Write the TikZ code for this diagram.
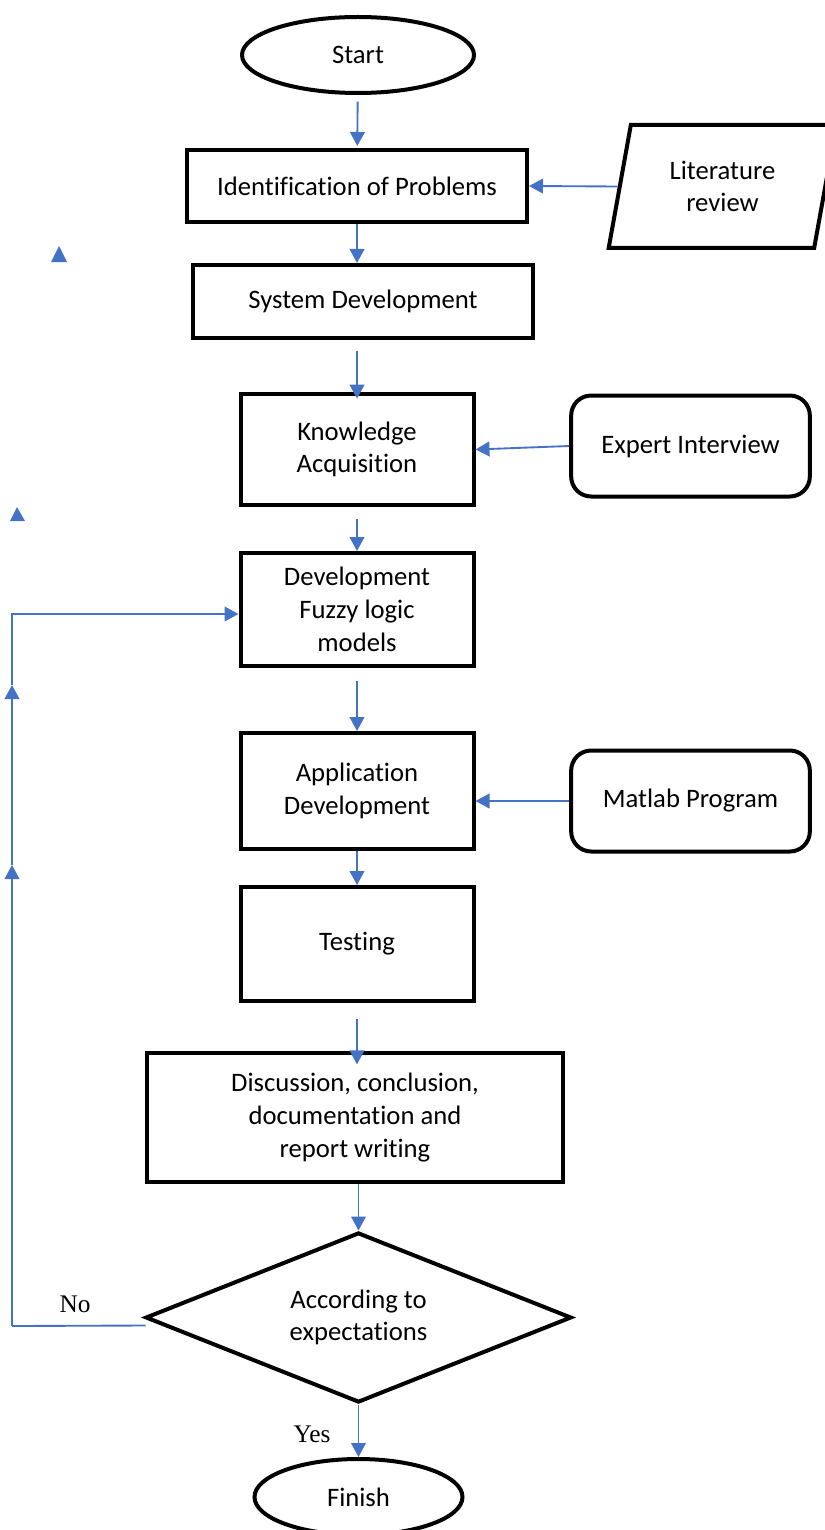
\documentclass[tikz,border=0pt]{standalone}
\usepackage{fontspec}
\setmainfont[Ligatures=NoCommon]{Carlito}
\newfontfamily\serifnote{Liberation Serif}
\usepackage{tikz}
\usetikzlibrary{arrows.meta,shapes.geometric,calc}
\definecolor{flowblue}{RGB}{68,114,196}

\begin{document}
\begin{tikzpicture}[x=0.75pt,y=-0.75pt,font=\fontsize{20}{24.5}\selectfont,
  procbox/.style={draw,line width=3pt,align=center,inner sep=0pt},
  termbox/.style={draw,line width=3pt,ellipse,inner sep=0pt,minimum width=#1,minimum height=57pt},
  sidebox/.style={draw,line width=3pt,rounded corners=15pt,align=center,inner sep=0pt,minimum width=179pt,minimum height=75.75pt},
  flow/.style={flowblue,line width=1.4pt,-{Triangle[length=10.5pt,width=11pt]}},
  flowline/.style={flowblue,line width=1.4pt}]
\useasboundingbox (0,0) rectangle (824,1530);
\node[termbox=174pt] (start) at (358,55) {Start};
\node[procbox,minimum width=255pt,minimum height=54pt] (identify) at (357,186) {Identification of Problems};
\node[draw,line width=3pt,trapezium,trapezium left angle=76,trapezium right angle=104,trapezium stretches=true,minimum width=171.75pt,minimum height=92.25pt,align=center,inner sep=0pt] (litreview) at (722.5,186.5) {Literature\\review};
\node[procbox,minimum width=255pt,minimum height=54.75pt] (sysdev) at (363,301.5) {System Development};
\node[procbox,minimum width=174.75pt,minimum height=83.25pt] (knowacq) at (357,449.5) {Knowledge\\Acquisition};
\node[sidebox] (expert) at (690.5,446) {Expert Interview};
\node[procbox,minimum width=174.75pt,minimum height=84.75pt] (fuzzy) at (357,609.5) {Development\\Fuzzy logic\\models};
\node[procbox,minimum width=174.75pt,minimum height=87pt] (appdev) at (357,791) {Application\\Development};
\node[sidebox] (matlab) at (690.5,801) {Matlab Program};
\node[procbox,minimum width=174.75pt,minimum height=85.5pt] (testing) at (357,944) {Testing};
\node[procbox,minimum width=312pt,minimum height=96.75pt] (discuss) at (355,1117.5) {Discussion, conclusion,\\documentation and\\report writing};
\node[draw,line width=3pt,diamond,aspect=2.5,inner sep=0pt,minimum width=319.5pt,minimum height=127.5pt,align=center] (decide) at (358.5,1317.5) {According to\\expectations};
\node[termbox=156pt] (finish) at (358.5,1497) {Finish};
\node[font=\serifnote\fontsize{19}{22}\selectfont] (nolabel) at (75,1304) {No};
\node[font=\serifnote\fontsize{19}{22}\selectfont] (yeslabel) at (312,1434) {Yes};
\draw[flow,shorten <=5pt,shorten >=1.5pt] (start) -- (identify);
\draw[flow] (litreview.west) -- (identify.east);
\draw[flow] (identify.south) -- (identify.south |- sysdev.north);
\draw[flow,shorten <=8pt,shorten >=-5pt] (sysdev.south -| knowacq.north) -- (knowacq.north);
\draw[flow] (expert.west) -- (knowacq.east);
\draw[flow,shorten <=9pt] (knowacq) -- (fuzzy);
\draw[flow,shorten <=10pt] (fuzzy) -- (appdev);
\draw[flow] (matlab.west) -- (matlab.west -| appdev.east);
\draw[flow] (appdev) -- (testing);
\draw[flow,shorten <=12pt,shorten >=-10pt] (testing.south) -- (testing.south |- discuss.north);
\draw[flow] (discuss.south -| decide.north) -- (decide.north);
\draw[flow] (decide) -- (finish);
\coordinate (nolow) at (12,1326);
\coordinate (nomida) at (12,865);
\coordinate (nomidb) at (12,685);
\coordinate (nohigh) at (12,614);
\draw[flowline] ($(decide.west)+(2,8)$) -- (nolow);
\draw[flow] (nolow) -- (nomida);
\draw[flow] (nomida) -- (nomidb);
\draw[flow] (nomidb) -- (nohigh) -- (nohigh -| fuzzy.west);
\fill[flowblue] (59,246) -- (67,262) -- (51,262) -- cycle;
\fill[flowblue] (17,507) -- (25,521) -- (10,521) -- cycle;
\end{tikzpicture}
\end{document}
